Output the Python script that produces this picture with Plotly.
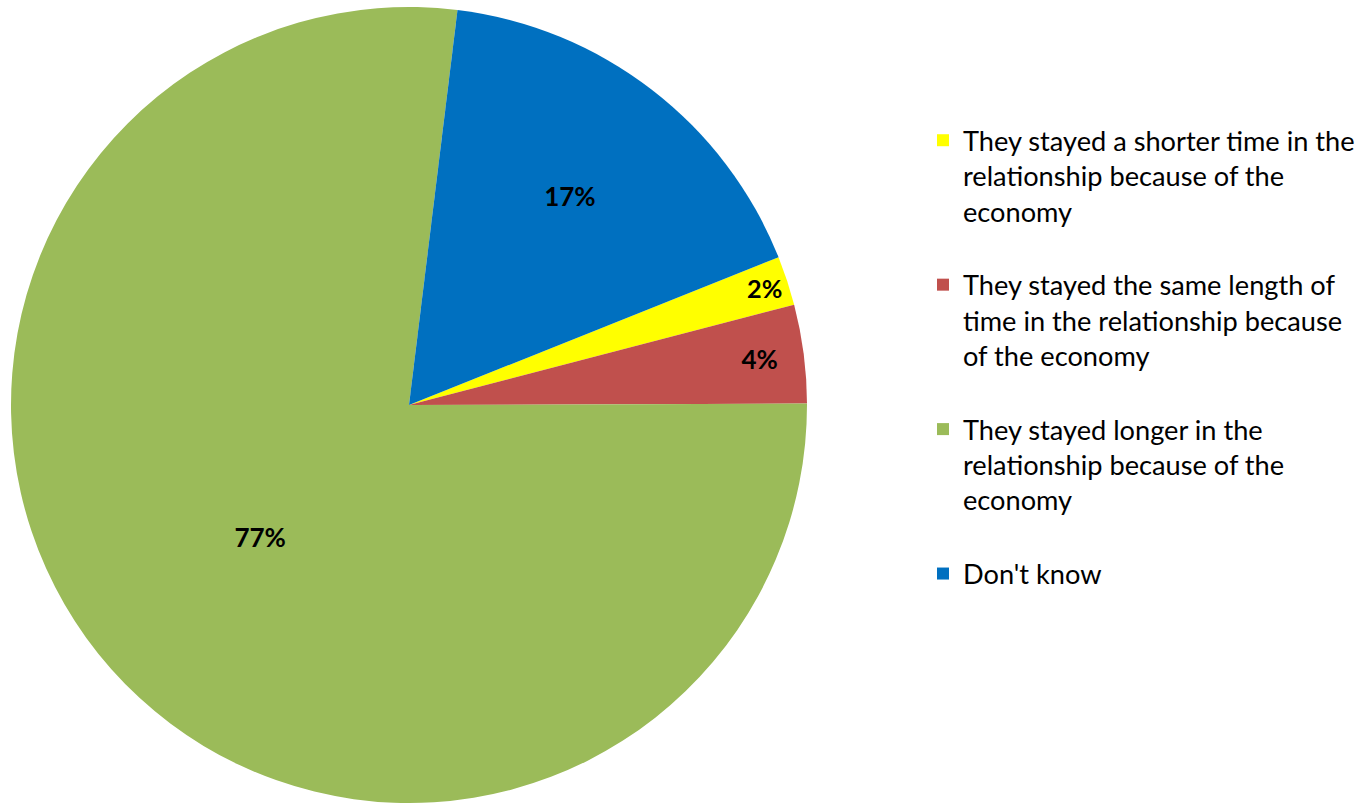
import plotly.graph_objects as go

labels = [
    "They stayed a shorter time in the<br>relationship because of the<br>economy<br>",
    "They stayed the same length of<br>time in the relationship because<br>of the economy<br>",
    "They stayed longer in the<br>relationship because of the<br>economy<br>",
    "Don't know",
]
values = [2, 4, 77, 17]
colors = ["#FFFF00", "#C0504D", "#9BBB59", "#0070C0"]

W, H = 1358, 803

fig = go.Figure(go.Pie(
    labels=labels,
    values=values,
    sort=False,
    direction="clockwise",
    rotation=68.2,
    marker=dict(colors=colors, line=dict(width=0)),
    texttemplate="<b>%{value}%</b>",
    textposition="inside",
    insidetextorientation="horizontal",
    textfont=dict(family="Lato", size=26, color="black"),
    hoverinfo="label+percent",
    domain=dict(x=[11 / W, 807 / W], y=[0, 1]),
))

fig.update_layout(
    width=W, height=H,
    margin=dict(l=0, r=0, t=7, b=0, autoexpand=False),
    paper_bgcolor="white",
    plot_bgcolor="white",
    showlegend=True,
    legend=dict(
        x=923 / W, y=1 - 110 / H, xanchor="left", yanchor="top",
        font=dict(family="Lato", size=27.2, color="black"),
        valign="top",
    ),
)

fig.write_html(
    "out.html",
    config={"displayModeBar": False},
    post_script="document.body.style.margin='0';",
)
